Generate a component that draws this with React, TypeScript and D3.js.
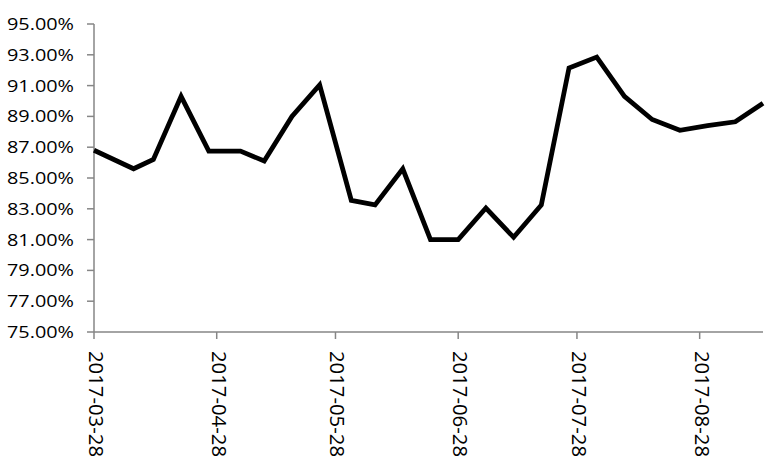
import React from "react";
import * as d3 from "d3";

const dates = [
  "2017-03-28", "2017-04-07", "2017-04-12", "2017-04-19", "2017-04-26",
  "2017-05-04", "2017-05-10", "2017-05-17", "2017-05-24", "2017-06-01",
  "2017-06-07", "2017-06-14", "2017-06-21", "2017-06-28", "2017-07-05",
  "2017-07-12", "2017-07-19", "2017-07-26", "2017-08-02", "2017-08-09",
  "2017-08-16", "2017-08-23", "2017-08-30", "2017-09-06", "2017-09-13",
];
const values = [
  86.8, 85.6, 86.2, 90.3, 86.75,
  86.75, 86.1, 89.0, 91.05, 83.55,
  83.25, 85.6, 81.0, 81.0, 83.05,
  81.15, 83.25, 92.15, 92.85, 90.3,
  88.8, 88.1, 88.4, 88.65, 89.85,
];
const yTicks = [75, 77, 79, 81, 83, 85, 87, 89, 91, 93, 95];
const xTickLabels = ["2017-03-28", "2017-04-28", "2017-05-28", "2017-06-28", "2017-07-28", "2017-08-28"];

const W = 774;
const H = 468;
const left = 94;
const right = 763;
const top = 24;
const bottom = 332;

export default function App() {
  const parse = d3.timeParse("%Y-%m-%d");
  const x = d3
    .scaleTime()
    .domain([parse(dates[0])!, parse(dates[dates.length - 1])!])
    .range([left, right]);
  const y = d3.scaleLinear().domain([75, 95]).range([bottom, top]);
  const data = dates.map((d, i) => ({ date: parse(d)!, v: values[i] }));
  const line = d3
    .line<{ date: Date; v: number }>()
    .x((d) => x(d.date))
    .y((d) => y(d.v));
  const axisColor = "#868686";
  const font = "'Open Sans', 'Liberation Sans', Arial, sans-serif";

  return (
    <svg
      width={W}
      height={H}
      style={{ position: "absolute", left: 0, top: 0, background: "#fff" }}
    >
      {/* y axis */}
      <line x1={left} x2={left} y1={top} y2={bottom} stroke={axisColor} strokeWidth={1.5} />
      {yTicks.map((t) => (
        <g key={t}>
          <line x1={left - 7} x2={left} y1={y(t)} y2={y(t)} stroke={axisColor} strokeWidth={1.5} />
          <text
            x={74}
            y={y(t) + 6}
            textAnchor="end"
            fontFamily={font}
            fontSize={17}
            textLength={67}
            lengthAdjust="spacingAndGlyphs"
            fill="#000"
          >
            {t.toFixed(2) + "%"}
          </text>
        </g>
      ))}
      {/* x axis */}
      <line x1={left} x2={right} y1={bottom} y2={bottom} stroke={axisColor} strokeWidth={1.5} />
      {xTickLabels.map((lab) => {
        const xx = x(parse(lab)!);
        return (
          <g key={lab}>
            <line x1={xx} x2={xx} y1={bottom} y2={bottom + 7} stroke={axisColor} strokeWidth={1.5} />
            <text
              transform={`translate(${xx + 3},${351}) rotate(90)`}
              dominantBaseline="central"
              textAnchor="start"
              fontFamily={font}
              fontSize={20.5}
              textLength={106}
              lengthAdjust="spacingAndGlyphs"
              fill="#000"
            >
              {lab}
            </text>
          </g>
        );
      })}
      {/* series */}
      <path d={line(data) ?? ""} fill="none" stroke="#000" strokeWidth={4.8} strokeLinejoin="miter" />
    </svg>
  );
}
